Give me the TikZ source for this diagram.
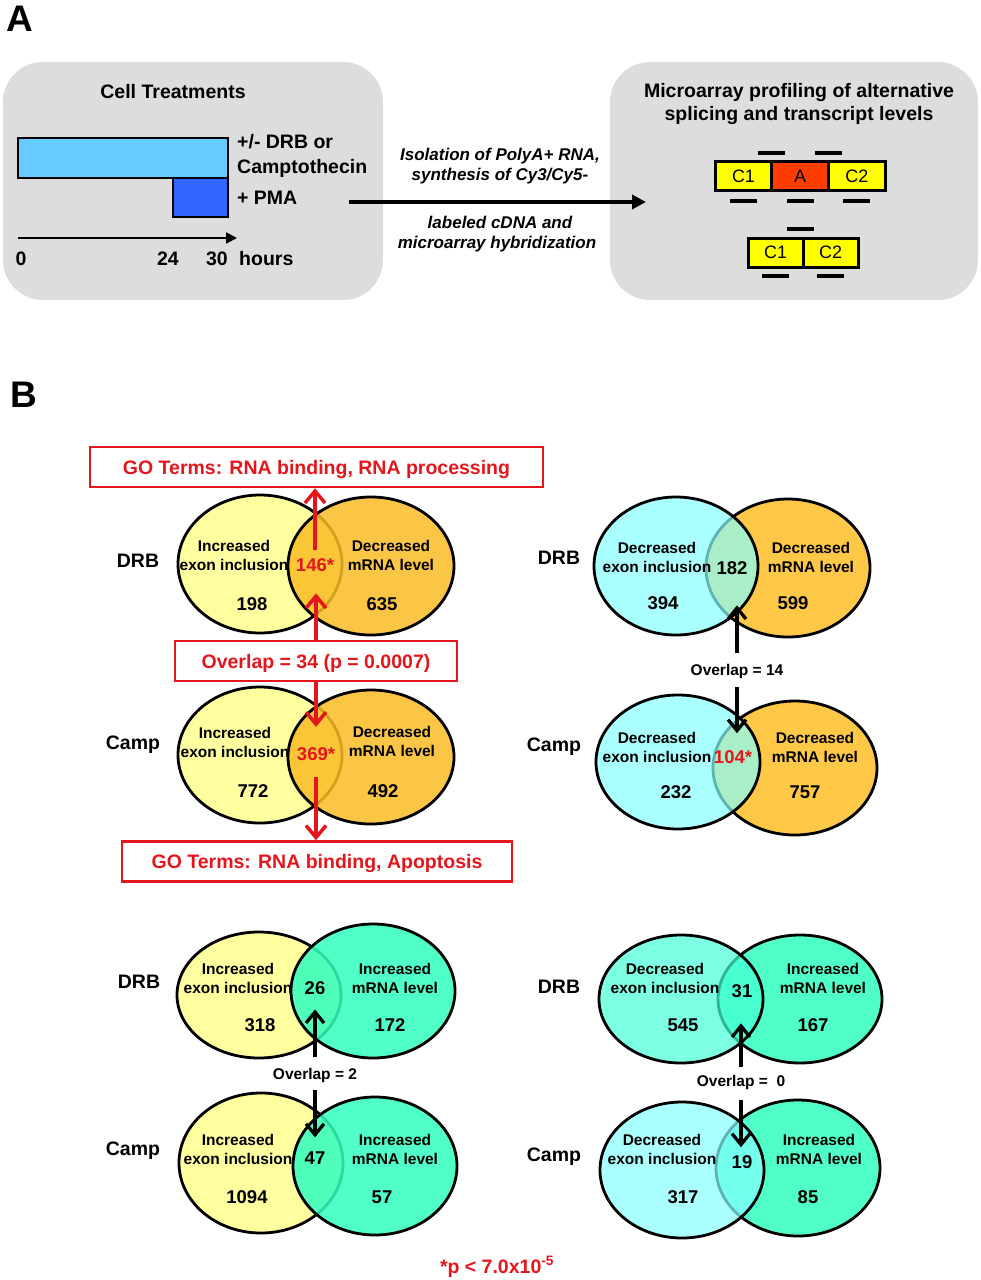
\documentclass[tikz,border=0pt]{standalone}
\usepackage{fontspec}
\setmainfont{Liberation Sans}
\usepackage{xcolor}
\usepackage{tikz}
\usetikzlibrary{arrows.meta, positioning}

\definecolor{boxgray}{RGB}{221,221,221}
\definecolor{barlight}{RGB}{102,204,255}
\definecolor{bardark}{RGB}{51,102,255}
\definecolor{exonyel}{RGB}{255,255,0}
\definecolor{exonred}{RGB}{255,60,0}
\definecolor{redtxt}{RGB}{228,22,28}
\definecolor{incexon}{RGB}{255,255,160}
\definecolor{decmrna}{RGB}{255,200,70}
\definecolor{decmrnatop}{RGB}{250,188,37}
\definecolor{decexontop}{RGB}{134,255,255}
\definecolor{incmrna}{RGB}{80,255,200}
\definecolor{incmrnatop}{RGB}{49,255,190}
\definecolor{decexonaqua}{RGB}{70,255,215}

\begin{document}
\begin{tikzpicture}[x=1pt, y=-1pt, inner sep=2pt,
    big/.style={font=\fontsize{37}{40}\selectfont\bfseries},
    txt/.style={font=\fontsize{19.5}{23}\selectfont\bfseries},
    ital/.style={font=\fontsize{17}{20}\selectfont\bfseries\itshape, anchor=base},
    exon/.style={draw, line width=3pt, outer sep=0pt, minimum width=56.7pt,
        minimum height=29pt, fill=exonyel, font=\fontsize{18}{20}\selectfont},
    probe/.style={line width=4pt},
    venn/.style={draw, line width=2.8pt},
    setlab/.style={font=\fontsize{15.5}{19}\selectfont\bfseries, align=center},
    num/.style={font=\fontsize{18.5}{22}\selectfont\bfseries, anchor=base},
    gobox/.style={txt, draw=redtxt, line width=2.5pt, text=redtxt,
        text depth=0pt, minimum height=40pt},
    redarrow/.style={draw=redtxt, line width=3.5pt,
        -{Straight Barb[length=12pt,width=20pt]}},
    blkarrow/.style={line width=3.3pt, -{Straight Barb[length=11pt,width=18pt]}}]

    \useasboundingbox (0,0) rectangle (981,1280);

    % =================================================================
    % 1. PANEL A: CELL TREATMENTS
    % =================================================================
    \node[big] (LabelA) at (20,19) {A};
    \fill[boxgray, rounded corners=40pt] (3,62) rectangle (383,300);
    \fill[boxgray, rounded corners=40pt] (610,62) rectangle (978,300);

    \node[txt, anchor=base] (CellTitle) at (173,98) {Cell Treatments};
    \draw[line width=2.5pt, fill=barlight] (18,138) rectangle (228,178);
    \draw[line width=2.5pt, fill=bardark] (173,178) rectangle (228,217);
    \node[txt, anchor=base west] (DrbLine) at (235,148) {+/- DRB or};
    \node[txt, anchor=base west] (CptLine) at (235,173) {Camptothecin};
    \node[txt, anchor=base west] (PmaLine) at (235,204) {+ PMA};

    % time axis
    \coordinate (TimeStart) at (18,238);
    \coordinate (TimeEnd) at (237,238);
    \draw[line width=2.3pt, -{Triangle[length=11pt,width=11pt]}] (TimeStart) -- (TimeEnd);
    \node[txt, anchor=base] (HourZero) at (21,265) {0};
    \node[txt, anchor=base] (HourPma) at (168,265) {24};
    \node[txt, anchor=base] (HourEnd) at (217,265) {30};
    \node[txt, anchor=base west] (HourUnit) at (237,265) {hours};

    % =================================================================
    % 2. PANEL A: ARROW AND MICROARRAY
    % =================================================================
    \coordinate (IsoStart) at (349,202);
    \coordinate (IsoEnd) at (646,202);
    \draw[line width=4pt, -{Triangle[length=14pt,width=14pt]}] (IsoStart) -- (IsoEnd);
    \node[ital] (IsoOne) at (500,160) {Isolation of PolyA+ RNA,};
    \node[ital] (IsoTwo) at (500,180) {synthesis of Cy3/Cy5-};
    \node[ital] (IsoThree) at (500,228) {labeled cDNA and};
    \node[ital] (IsoFour) at (497,248) {microarray hybridization};

    \node[txt, anchor=base] (ArrTitleOne) at (799,97) {Microarray profiling of alternative};
    \node[txt, anchor=base] (ArrTitleTwo) at (799,120) {splicing and transcript levels};

    % included exon
    \node[exon] (ExC1) at (743.5,176) {C1};
    \node[exon, fill=exonred, right=0pt of ExC1] (ExA) {A};
    \node[exon, right=0pt of ExA] (ExC2) {C2};
    \foreach \p in {ExC1.north east, ExA.north east}
        \draw[probe] ([yshift=8.5pt]\p) ++(-14,0) -- ++(27,0);
    \foreach \p in {ExC1.south, ExA.south, ExC2.south}
        \draw[probe] ([yshift=-10.5pt]\p) ++(-13.5,0) -- ++(27,0);

    % skipped exon
    \node[exon, minimum width=55pt] (SkC1) at (775.5,252.5) {C1};
    \node[exon, minimum width=55pt, right=0pt of SkC1] (SkC2) {C2};
    \draw[probe] ([yshift=9pt]SkC1.north east) ++(-16,0) -- ++(27,0);
    \foreach \p in {SkC1.south, SkC2.south}
        \draw[probe] ([yshift=-9pt]\p) ++(-13.5,0) -- ++(27,0);

    % =================================================================
    % 3. PANEL B: VENN DIAGRAMS (TOP ROW)
    % =================================================================
    \node[big] (LabelB) at (24,395) {B};

    % DRB, increased exon / decreased mRNA
    \draw[venn, fill=incexon] (260,564) ellipse [x radius=82, y radius=69];
    \draw[venn, fill=decmrnatop, fill opacity=.85] (371,566) ellipse [x radius=83, y radius=69];
    \node[txt, anchor=base] (SideDrbA) at (138,567) {DRB};
    \node[setlab] (SetIncA) at (234,555) {Increased\\exon inclusion};
    \node[setlab] (SetDecA) at (391,555) {Decreased\\mRNA level};
    \node[num] (Num198) at (252,610) {198};
    \node[num] (Num635) at (382,610) {635};
    \node[num, text=redtxt] (Num146) at (315,571) {146*};

    % Camp, increased exon / decreased mRNA
    \draw[venn, fill=incexon] (260,755) ellipse [x radius=82, y radius=68];
    \draw[venn, fill=decmrnatop, fill opacity=.85] (371,757) ellipse [x radius=83, y radius=67];
    \node[txt, anchor=base] (SideCampA) at (133,749) {Camp};
    \node[setlab] (SetIncB) at (235,742) {Increased\\exon inclusion};
    \node[setlab] (SetDecB) at (392,741) {Decreased\\mRNA level};
    \node[num] (Num772) at (253,797) {772};
    \node[num] (Num492) at (383,797) {492};
    \node[num, text=redtxt] (Num369) at (316,760) {369*};

    % GO term boxes and red arrows
    \node[gobox, minimum width=453pt] (GoUpper) at (316.5,467) {GO Terms: RNA binding, RNA processing};
    \node[gobox, minimum width=282pt] (OvlRed) at (316,661) {Overlap = 34 (p = 0.0007)};
    \node[gobox, minimum width=390pt] (GoLower) at (317,861.5) {GO Terms: RNA binding, Apoptosis};
    \draw[redarrow, shorten <=6pt] (Num146.north) -- (Num146.north |- GoUpper.south);
    \draw[redarrow, shorten >=20pt] (OvlRed.north) -- (OvlRed.north |- Num146.south);
    \draw[redarrow, shorten >=18pt] (OvlRed.south) -- (OvlRed.south |- Num369.north);
    \draw[redarrow, shorten <=15pt] (Num369.south) -- (Num369.south |- GoLower.north);

    % DRB, decreased exon / decreased mRNA
    \draw[venn, fill=decmrna] (788,568) ellipse [x radius=82, y radius=69];
    \draw[venn, fill=decexontop, fill opacity=.7] (676,566) ellipse [x radius=82, y radius=69];
    \node[txt, anchor=base] (SideDrbB) at (559,564) {DRB};
    \node[setlab] (SetDecC) at (657,557) {Decreased\\exon inclusion};
    \node[setlab] (SetDecD) at (811,557) {Decreased\\mRNA level};
    \node[num] (Num394) at (663,609) {394};
    \node[num] (Num599) at (793,609) {599};
    \node[num] (Num182) at (732,574) {182};

    % Camp, decreased exon / decreased mRNA
    \draw[venn, fill=decmrna] (795,768) ellipse [x radius=82, y radius=67];
    \draw[venn, fill=decexontop, fill opacity=.7] (678,762) ellipse [x radius=82, y radius=67];
    \node[txt, anchor=base] (SideCampB) at (554,751) {Camp};
    \node[setlab] (SetDecE) at (657,747) {Decreased\\exon inclusion};
    \node[setlab] (SetDecF) at (815,747) {Decreased\\mRNA level};
    \node[num] (Num232) at (676,798) {232};
    \node[num] (Num757) at (805,798) {757};
    \node[num, text=redtxt] (Num104) at (733,763) {104*};

    \node[setlab, anchor=base] (Ovl14) at (737,675) {Overlap = 14};
    \draw[blkarrow, shorten <=8.7pt, shorten >=29pt] (Ovl14.north) -- (Ovl14.north |- Num182.south);
    \draw[blkarrow, shorten <=6.7pt, shorten >=14.7pt] (Ovl14.south) -- (Ovl14.south |- Num104.north);

    % =================================================================
    % 4. PANEL B: VENN DIAGRAMS (BOTTOM ROW)
    % =================================================================
    % DRB, increased exon / increased mRNA
    \draw[venn, fill=incexon] (259,995) ellipse [x radius=82, y radius=63];
    \draw[venn, fill=incmrnatop, fill opacity=.85] (373,991) ellipse [x radius=82, y radius=67];
    \node[txt, anchor=base] (SideDrbC) at (139,988) {DRB};
    \node[setlab] (SetIncG) at (238,978) {Increased\\exon inclusion};
    \node[setlab] (SetIncH) at (395,978) {Increased\\mRNA level};
    \node[num] (Num318) at (260,1031) {318};
    \node[num] (Num172) at (390,1031) {172};
    \node[num] (Num26) at (315,994) {26};

    % Camp, increased exon / increased mRNA
    \draw[venn, fill=incexon] (261,1163) ellipse [x radius=82, y radius=70];
    \draw[venn, fill=incmrnatop, fill opacity=.85] (375,1166) ellipse [x radius=82, y radius=69];
    \node[txt, anchor=base] (SideCampC) at (133,1155) {Camp};
    \node[setlab] (SetIncI) at (238,1149) {Increased\\exon inclusion};
    \node[setlab] (SetIncJ) at (395,1149) {Increased\\mRNA level};
    \node[num] (Num1094) at (247,1203) {1094};
    \node[num] (Num57) at (382,1203) {57};
    \node[num] (Num47) at (315,1164) {47};

    \node[setlab, anchor=base] (Ovl2) at (315,1079) {Overlap = 2};
    \draw[blkarrow, shorten <=8.7pt, shorten >=13pt] (Ovl2.north) -- (Ovl2.north |- Num26.south);
    \draw[blkarrow, shorten <=5.7pt, shorten >=11.7pt] (Ovl2.south) -- (Ovl2.south |- Num47.north);

    % DRB, decreased exon / increased mRNA
    \draw[venn, fill=incmrna] (800,999) ellipse [x radius=82, y radius=64];
    \draw[venn, fill=decexonaqua, fill opacity=.7] (681,999) ellipse [x radius=82, y radius=64];
    \node[txt, anchor=base] (SideDrbD) at (559,993) {DRB};
    \node[setlab] (SetDecK) at (665,978) {Decreased\\exon inclusion};
    \node[setlab] (SetIncL) at (823,978) {Increased\\mRNA level};
    \node[num] (Num545) at (683,1031) {545};
    \node[num] (Num167) at (813,1031) {167};
    \node[num] (Num31) at (742,997) {31};

    % Camp, decreased exon / increased mRNA
    \draw[venn, fill=incmrna] (798,1168) ellipse [x radius=82, y radius=68];
    \draw[venn, fill=decexontop, fill opacity=.7] (682,1170) ellipse [x radius=82, y radius=68];
    \node[txt, anchor=base] (SideCampD) at (554,1161) {Camp};
    \node[setlab] (SetDecM) at (662,1149) {Decreased\\exon inclusion};
    \node[setlab] (SetIncN) at (819,1149) {Increased\\mRNA level};
    \node[num] (Num317) at (683,1203) {317};
    \node[num] (Num85) at (808,1203) {85};
    \node[num] (Num19) at (742,1168) {19};

    \node[setlab, anchor=base] (Ovl0) at (741,1086) {Overlap = \ 0};
    \draw[blkarrow, shorten <=5.7pt, shorten >=24pt] (Ovl0.north) -- (Ovl0.north |- Num31.south);
    \draw[blkarrow, shorten <=8.7pt, shorten >=5.7pt] (Ovl0.south) -- (Ovl0.south |- Num19.north);

    % significance note
    \node[txt, anchor=base, text=redtxt] (PNote) at (497,1273) {*p < 7.0x10\textsuperscript{-5}};

\end{tikzpicture}
\end{document}
